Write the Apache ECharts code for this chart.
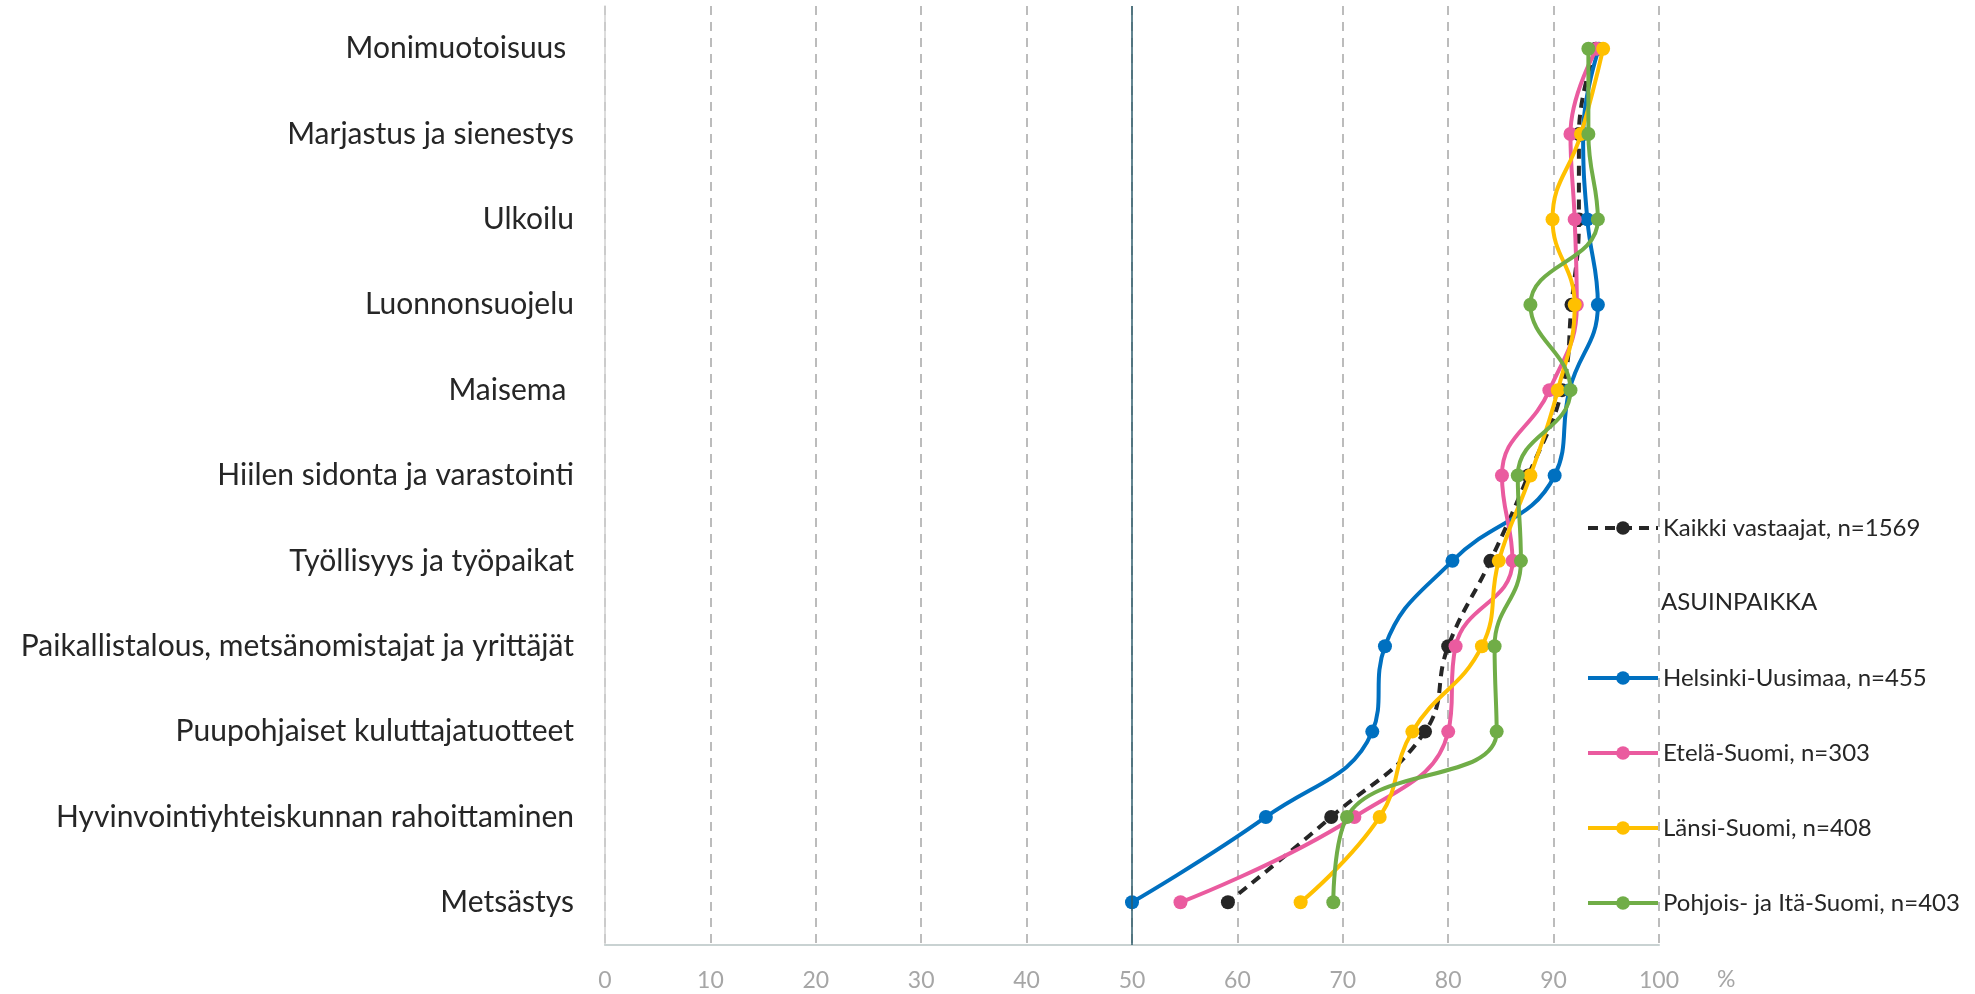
<!DOCTYPE html>
<html>
<head>
<meta charset="utf-8">
<script src="https://cdn.jsdelivr.net/npm/echarts@6/dist/echarts.min.js"></script>
<style>html,body{margin:0;padding:0;background:#fff;}#c{width:1975px;height:994px;}</style>
</head>
<body>
<div id="c"></div>
<script>
const categories = [
  'Monimuotoisuus ',
  'Marjastus ja sienestys',
  'Ulkoilu',
  'Luonnonsuojelu',
  'Maisema ',
  'Hiilen sidonta ja varastointi',
  'Työllisyys ja työpaikat',
  'Paikallistalous, metsänomistajat ja yrittäjät',
  'Puupohjaiset kuluttajatuotteet',
  'Hyvinvointiyhteiskunnan rahoittaminen',
  'Metsästys'
];
const xTicks = [0, 10, 20, 30, 40, 50, 60, 70, 80, 90, 100];
const kaikki   = [94.0, 92.4, 92.4, 91.7, 90.8, 87.6, 84.0, 80.0, 77.8, 68.9, 59.1];
const helsinki = [94.3, 92.8, 93.2, 94.2, 91.5, 90.1, 80.4, 74.0, 72.8, 62.7, 50.0];
const etela    = [94.1, 91.6, 92.0, 92.2, 89.6, 85.1, 86.1, 80.7, 80.0, 71.1, 54.6];
const lansi    = [94.7, 92.6, 89.9, 92.0, 90.4, 87.8, 84.8, 83.2, 76.6, 73.5, 66.0];
const pohjois  = [93.3, 93.3, 94.2, 87.8, 91.6, 86.6, 86.9, 84.4, 84.6, 70.4, 69.1];
const refValue = 50;

const names = ['Kaikki vastaajat, n=1569', 'Helsinki-Uusimaa, n=455', 'Etelä-Suomi, n=303', 'Länsi-Suomi, n=408', 'Pohjois- ja Itä-Suomi, n=403'];
const colors = ['#262626', '#0070C0', '#EA5B9F', '#FFC000', '#70AD47'];
const datasets = [kaikki, helsinki, etela, lansi, pohjois];

const chart = echarts.init(document.getElementById('c'));
const FONT = 'Lato, "Noto Sans", sans-serif';

const series = datasets.map((d, i) => ({
  name: names[i],
  type: 'line',
  data: d,
  smooth: 0.45,
  symbol: 'circle',
  symbolSize: 14,
  lineStyle: { color: colors[i], width: 4, type: i === 0 ? [10, 7] : 'solid' },
  itemStyle: { color: colors[i] },
  emphasis: { disabled: true },
  z: 3 + i
}));
series[0].markLine = {
  silent: true,
  symbol: 'none',
  label: { show: false },
  lineStyle: { color: '#2F5E6C', width: 1.5, type: 'solid' },
  data: [{ xAxis: refValue }]
};

const legendText = { color: '#262626', fontSize: 24, lineHeight: 24, fontFamily: FONT };

chart.setOption({
  animation: false,
  grid: { left: 605, right: 316, top: 6, bottom: 49, containLabel: false },
  xAxis: {
    type: 'value', min: 0, max: 100, interval: 10,
    name: '%', nameLocation: 'end', nameGap: 58,
    nameTextStyle: { color: '#A6A6A6', fontSize: 23, fontFamily: FONT, verticalAlign: 'top', padding: [23, 0, 0, 0] },
    axisLine: { show: true, lineStyle: { color: '#C9D2D2', width: 2 } },
    axisTick: { show: false },
    axisLabel: { color: '#A6A6A6', fontSize: 23, fontFamily: FONT, margin: 24,
      formatter: v => xTicks.indexOf(v) >= 0 ? String(v) : '' },
    splitLine: { show: true, lineStyle: { color: '#A6A6A6', width: 1.5, type: [9, 7] } }
  },
  yAxis: {
    type: 'category', data: categories, inverse: true, boundaryGap: true,
    axisLine: { show: true, lineStyle: { color: '#D0D0D0', width: 1.5 } },
    axisTick: { show: false },
    axisLabel: { color: '#262626', fontSize: 30, fontFamily: FONT, margin: 31 },
    splitLine: { show: false }
  },
  legend: [
    {
      data: [names[0]],
      orient: 'vertical', left: 1581, top: 511,
      itemWidth: 70, itemHeight: 17,
      lineStyle: { width: 4 },
      textStyle: legendText,
      selectedMode: false
    },
    {
      data: names.slice(1),
      orient: 'vertical', left: 1581, top: 661,
      itemWidth: 70, itemHeight: 17, itemGap: 51,
      lineStyle: { width: 4 },
      textStyle: legendText,
      selectedMode: false
    }
  ],
  graphic: [{
    type: 'text', left: 1661, top: 590,
    style: { text: 'ASUINPAIKKA', fill: '#262626', font: '24px ' + FONT }
  }],
  series: series
});
</script>
</body>
</html>
